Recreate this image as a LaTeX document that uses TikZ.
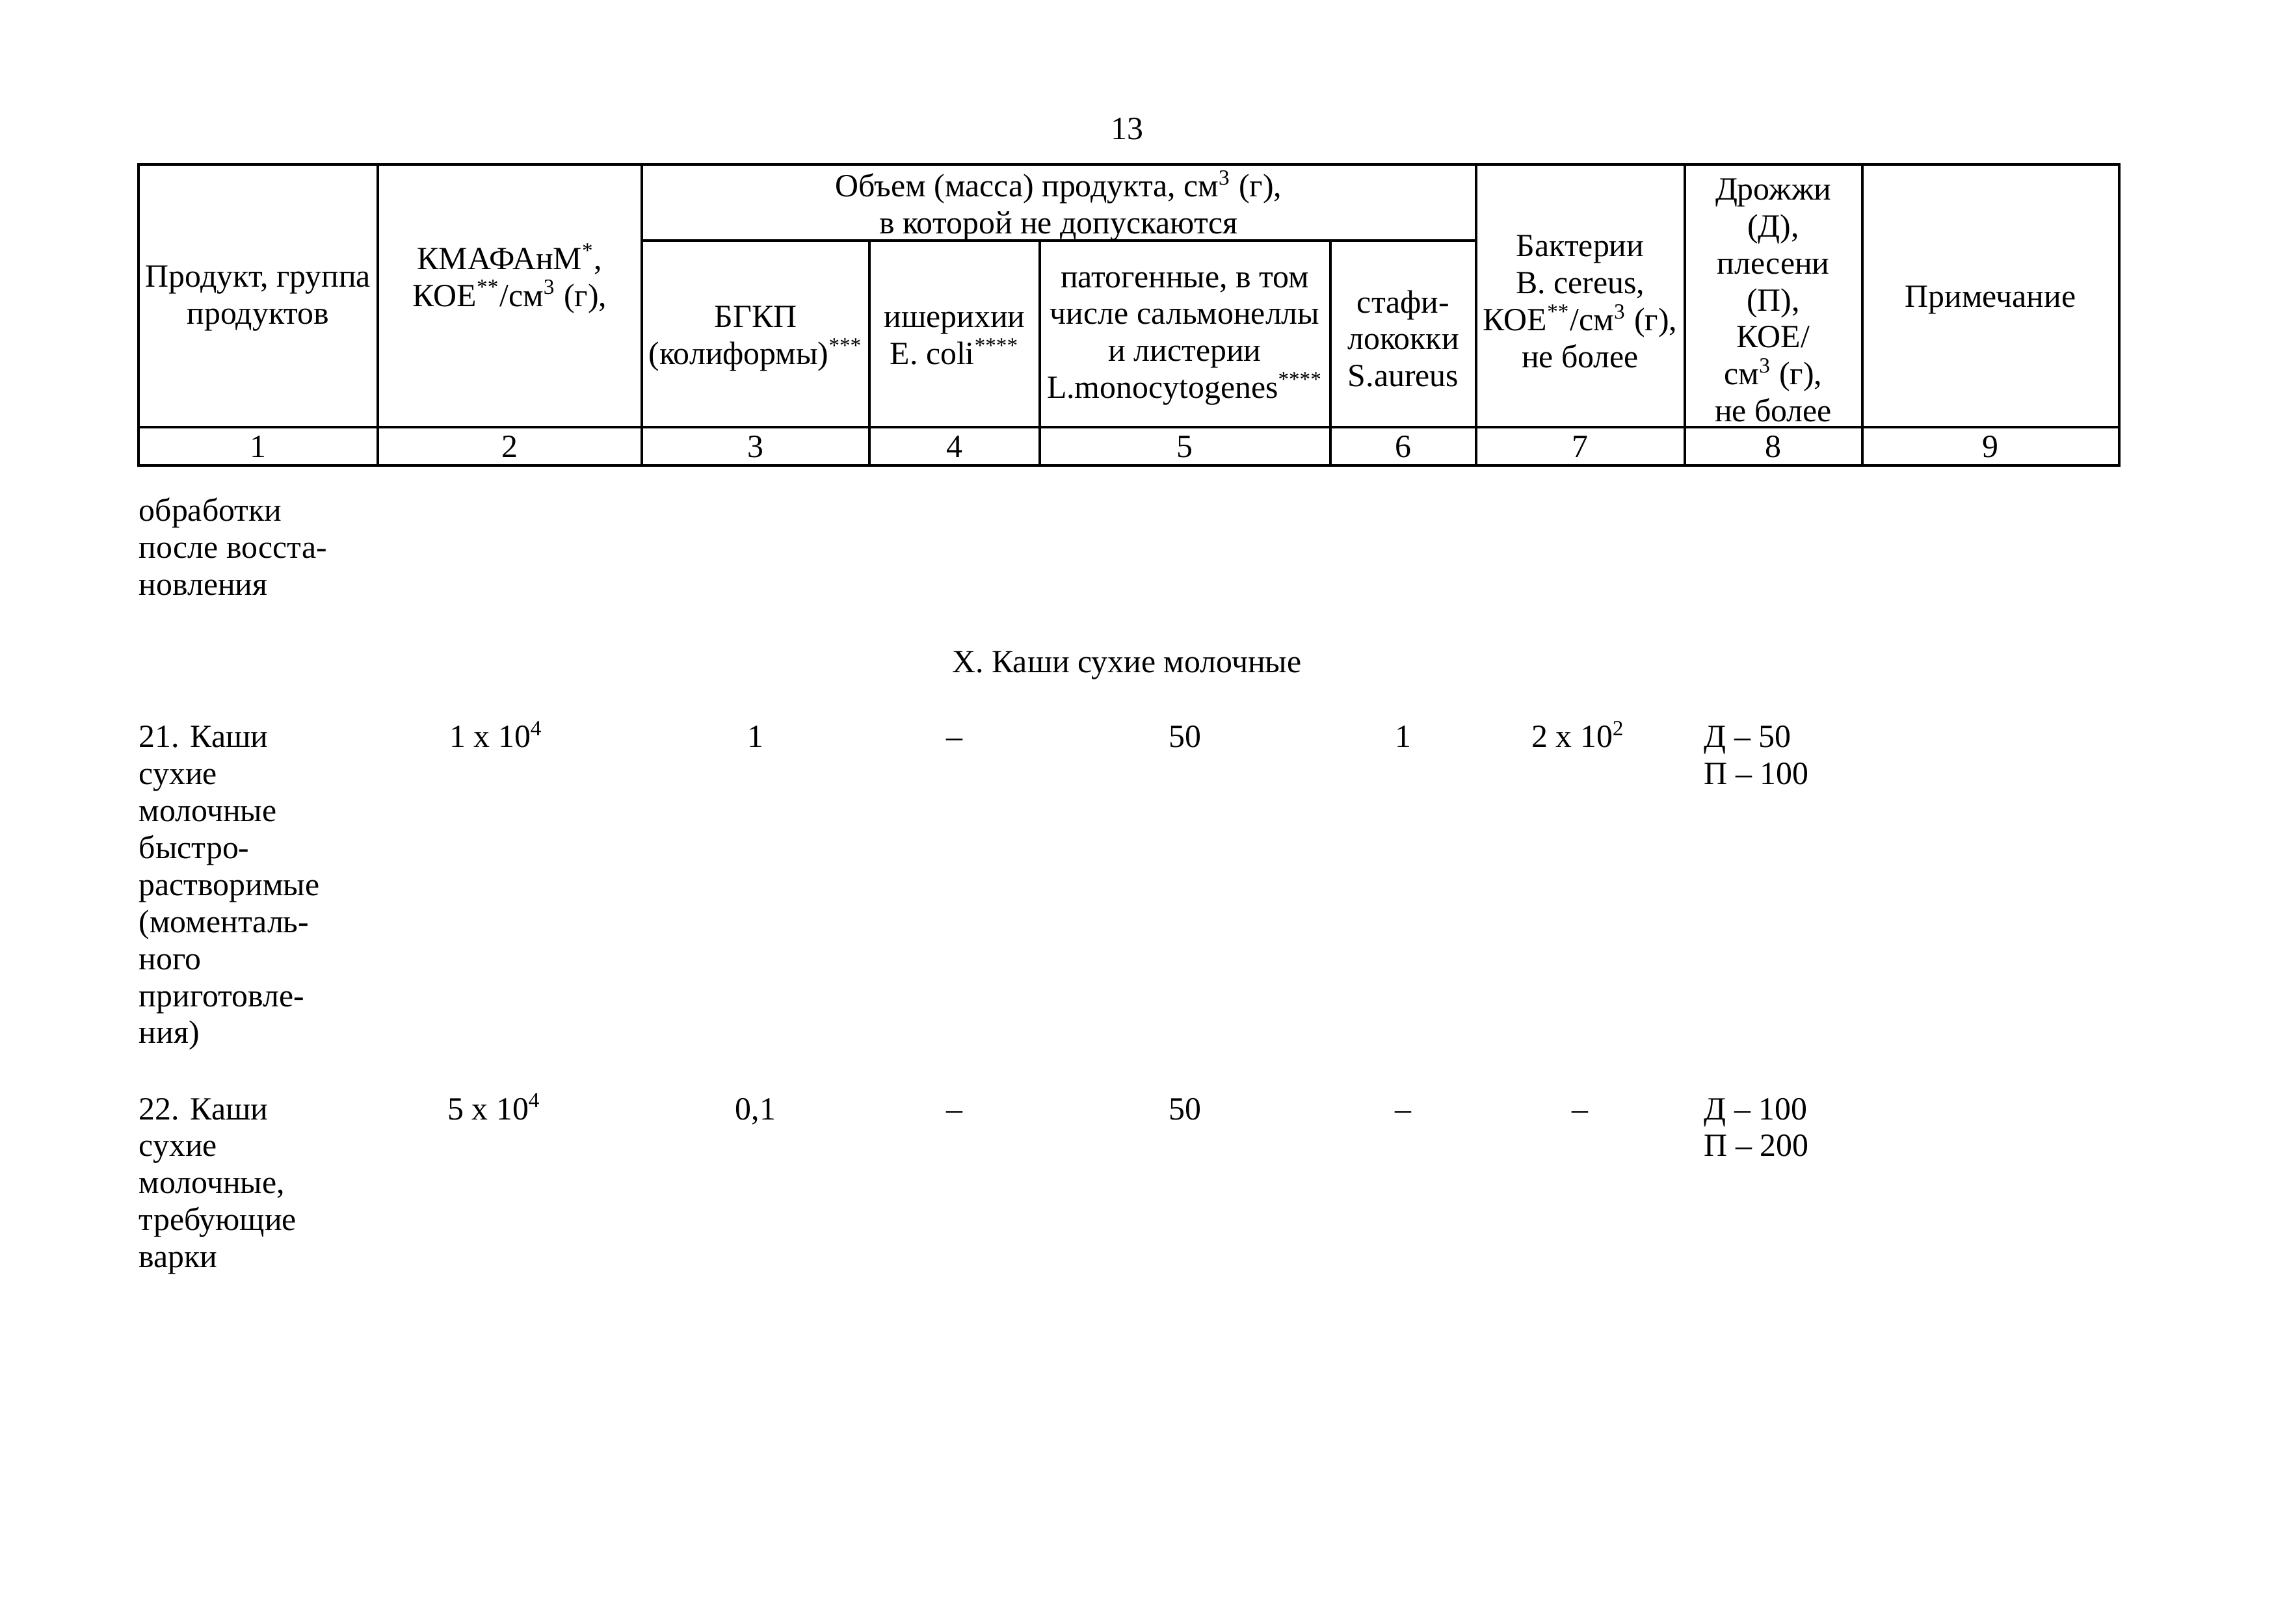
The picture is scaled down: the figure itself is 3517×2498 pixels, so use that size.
\documentclass[tikz,border=0pt]{standalone}
\usepackage{fontspec}
\setmainfont{Liberation Serif}
\newcommand\myfs{\fontsize{12}{13.7}\selectfont}
\newcommand\sups[1]{\textsuperscript{#1}}
\tikzset{
  grid/.style={line width=0.75pt, line cap=rect},
  hd/.style={align=center, inner sep=0pt, font=\myfs},
  num/.style={anchor=base, inner sep=0pt, font=\myfs},
  txt/.style={anchor=base west, inner sep=0pt, font=\myfs},
}
\begin{document}
\begin{tikzpicture}[x=0.0846667mm, y=-0.0846667mm]
\useasboundingbox[fill=white] (0,0) rectangle (3517,2498);
% page number
\node[num] (page) at (1733,215) {13};
% table grid
\draw[grid] (213,253) rectangle (3259,716);
\draw[grid] (987,370) -- (2270,370);
\draw[grid] (213,657) -- (3259,657);
\foreach \x in {581,987,2270,2591,2864} \draw[grid] (\x,253) -- (\x,716);
\foreach \x in {1337,1599,2046} \draw[grid] (\x,370) -- (\x,716);
% header
\node[hd] (h1) at (397,459) {Продукт, группа\\продуктов};
\node[hd] (h2) at (784,428) {КМАФАнМ\sups{*},\\КОЕ\sups{**}/см\sups{3} (г),};
\node[hd] (hs) at (1628,316) {Объем (масса) продукта, см\sups{3} (г),\\в которой не допускаются};
\node[hd] (h3) at (1162,521) {БГКП\\(колиформы)\sups{***}};
\node[hd] (h4) at (1468,521) {ишерихии\\E. coli\sups{****}};
\node[hd] (h5) at (1822,521) {патогенные, в том\\числе сальмонеллы\\и листерии\\L.monocytogenes\sups{****}};
\node[hd] (h6) at (2158,521) {стафи-\\лококки\\S.aureus};
\node[hd] (h7) at (2430,464) {Бактерии\\B. cereus,\\КОЕ\sups{**}/см\sups{3} (г),\\не более};
\node[hd] (h8) at (2727,462) {Дрожжи\\(Д),\\плесени\\(П),\\КОЕ/\\см\sups{3} (г),\\не более};
\node[hd] (h9) at (3061,462) {Примечание};
% column numbers
\foreach \x/\n [count=\i] in {397/1,784/2,1162/3,1468/4,1822/5,2158/6,2430/7,2727/8,3061/9}
  \node[num] (n\i) at (\x,704) {\n};
% continuation
\node[txt] (cont) at (213,802) {\begin{tabular}[t]{@{}l@{}}обработки\\после восста-\\новления\end{tabular}};
% section title
\node[num] (sec) at (1733,1035) {Х. Каши сухие молочные};
% row 21
\node[txt] (r21a) at (213,1150) {\begin{tabular}[t]{@{}l@{}}21. Каши\\сухие\\молочные\\быстро-\\растворимые\\(моменталь-\\ного\\приготовле-\\ния)\end{tabular}};
\node[num] (r21b) at (763,1150) {1 x 10\sups{4}};
\node[num] (r21c) at (1162,1150) {1};
\node[num] (r21d) at (1468,1150) {–};
\node[num] (r21e) at (1822,1150) {50};
\node[num] (r21f) at (2158,1150) {1};
\node[num] (r21g) at (2427,1150) {2 x 10\sups{2}};
\node[txt] (r21h) at (2620,1150) {\begin{tabular}[t]{@{}l@{}}Д – 50\\П – 100\end{tabular}};
% row 22
\node[txt] (r22a) at (213,1722) {\begin{tabular}[t]{@{}l@{}}22. Каши\\сухие\\молочные,\\требующие\\варки\end{tabular}};
\node[num] (r22b) at (760,1722) {5 x 10\sups{4}};
\node[num] (r22c) at (1162,1722) {0,1};
\node[num] (r22d) at (1468,1722) {–};
\node[num] (r22e) at (1822,1722) {50};
\node[num] (r22f) at (2158,1722) {–};
\node[num] (r22g) at (2430,1722) {–};
\node[txt] (r22h) at (2620,1722) {\begin{tabular}[t]{@{}l@{}}Д – 100\\П – 200\end{tabular}};
\end{tikzpicture}
\end{document}
